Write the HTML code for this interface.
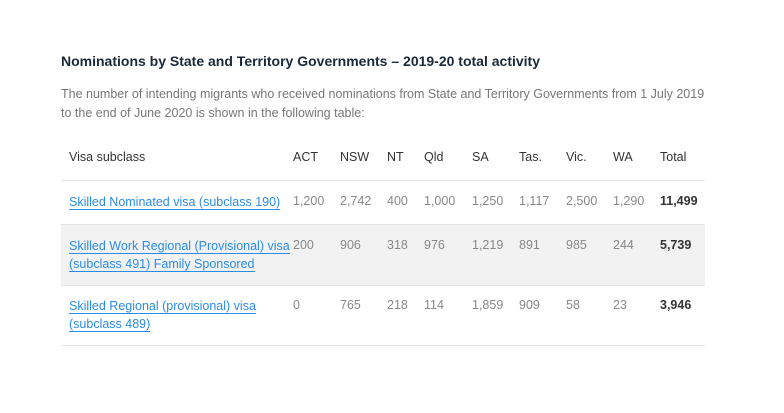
<!DOCTYPE html>
<html><head><meta charset="utf-8"><style>
body{margin:0;width:784px;height:413px;background:#fff;font-family:"Liberation Sans",sans-serif;position:relative;overflow:hidden}
.a{position:absolute;white-space:nowrap}
h1{position:absolute;left:61px;top:53px;margin:0;font-size:14px;font-weight:bold;color:#1b2838}
p{position:absolute;left:61px;top:85px;margin:0;font-size:12.5px;line-height:19px;color:#777;width:650px}
.hd{font-size:12.5px;color:#333;top:150px}
.c{font-size:12.5px;color:#888}
.t{font-weight:bold;color:#333}
.ln{position:absolute;left:61px;width:644px;height:1px;background:#e3e3e3}
a{color:#2b8be8;text-decoration:none;border-bottom:1px solid #2b8be8;font-size:12.5px;line-height:18px}
.lk{position:absolute;left:69px;line-height:18px}
</style></head><body>
<h1>Nominations by State and Territory Governments – 2019-20 total activity</h1>
<p>The number of intending migrants who received nominations from State and Territory Governments from 1 July 2019 to the end of June 2020 is shown in the following table:</p>
<div class="ln" style="top:180px"></div>
<div style="position:absolute;left:61px;top:225px;width:644px;height:60px;background:#f2f2f2"></div>
<div class="ln" style="top:224px"></div>
<div class="ln" style="top:285px"></div>
<div class="ln" style="top:345px"></div>
<div id="tbl"></div>
<script>
const cols=["ACT","NSW","NT","Qld","SA","Tas.","Vic.","WA","Total"];
const rowLabels=[["Skilled Nominated visa (subclass 190)"],["Skilled Work Regional (Provisional) visa","(subclass 491) Family Sponsored"],["Skilled Regional (provisional) visa","(subclass 489)"]];
const row1=["1,200","2,742","400","1,000","1,250","1,117","2,500","1,290","11,499"];
const row2=["200","906","318","976","1,219","891","985","244","5,739"];
const row3=["0","765","218","114","1,859","909","58","23","3,946"];
const rows=[row1,row2,row3];
const xs=[293,340,387,424,472,519,566,613,660];
const rowTops=[194,238,298];
const t=document.getElementById('tbl');
function add(cls,txt,x,y){const d=document.createElement('div');d.className='a '+cls;d.textContent=txt;d.style.left=x+'px';d.style.top=y+'px';t.appendChild(d);return d;}
let h=add('hd','Visa subclass',69,150);


cols.forEach((c,i)=>{const d=add('hd',c,xs[i],150);

});
rows.forEach((r,ri)=>{
 const l=document.createElement('div');l.className='lk';l.style.top=(rowTops[ri]-1)+'px';
 
 
 rowLabels[ri].forEach((s,k)=>{const a=document.createElement('a');a.textContent=s;a.href='#';if(k)l.appendChild(document.createElement('br'));l.appendChild(a);});
 t.appendChild(l);
 r.forEach((v,i)=>{const d=add('c'+(i==8?' t':''),v,xs[i],rowTops[ri]);
 
 });
});
</script>
</body></html>
